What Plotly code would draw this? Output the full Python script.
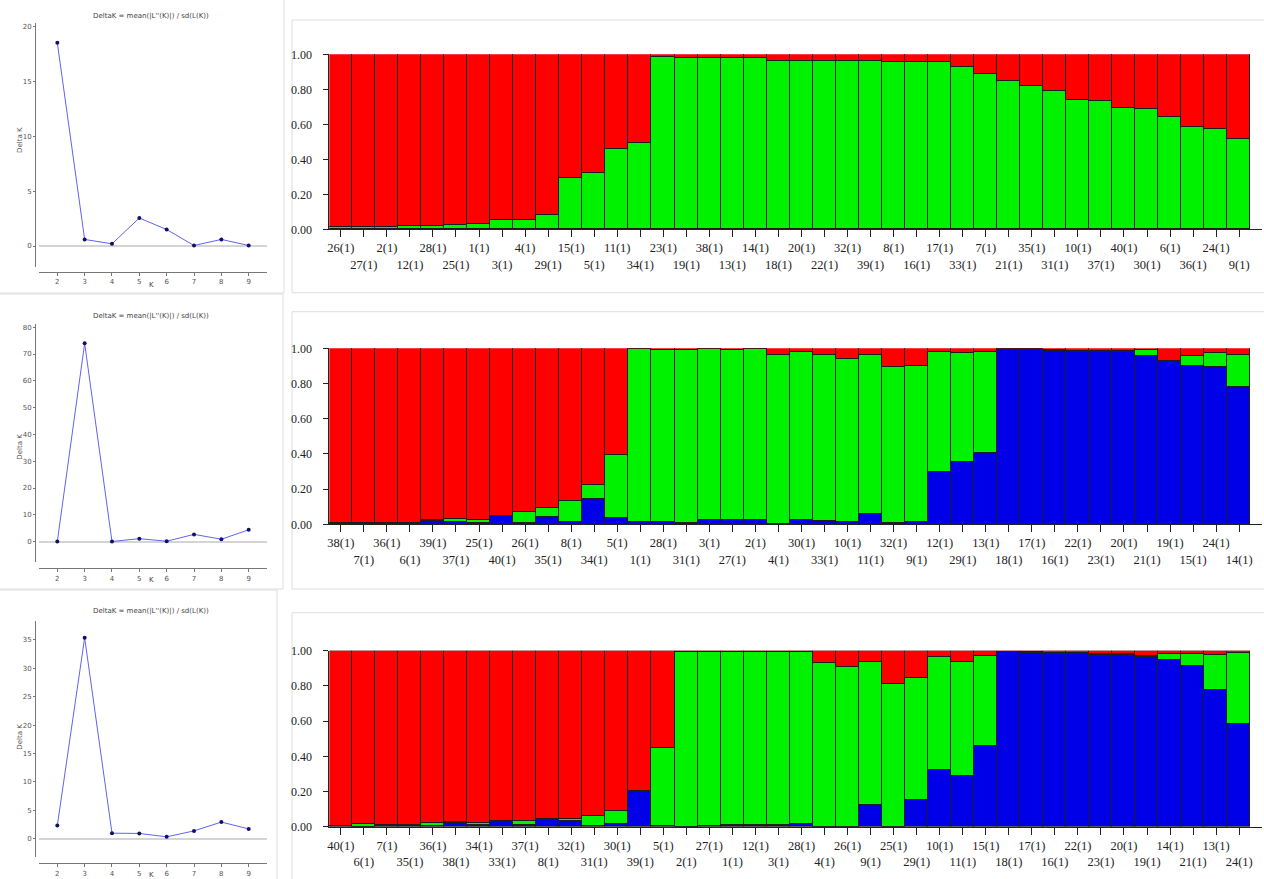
import plotly.graph_objects as go

W, H = 1264, 879


def px(x):
    return x / W


def py(y):
    return 1 - y / H


# ---------------- Delta K (Evanno) curves ----------------
K_VALUES = [2, 3, 4, 5, 6, 7, 8, 9]
DELTA_K_A = [18.5, 0.6, 0.2, 2.55, 1.5, 0.05, 0.6, 0.05]
DELTA_K_B = [0.05, 74.0, 0.05, 1.1, 0.15, 2.7, 0.9, 4.4]
DELTA_K_C = [2.3, 35.4, 0.95, 0.9, 0.3, 1.35, 2.9, 1.7]

# ---------------- Q-matrix, K = 2 ----------------
LABELS_K2 = ["26(1)", "27(1)", "2(1)", "12(1)", "28(1)", "25(1)", "1(1)", "3(1)", "4(1)", "29(1)",
             "15(1)", "5(1)", "11(1)", "34(1)", "23(1)", "19(1)", "38(1)", "13(1)", "14(1)", "18(1)",
             "20(1)", "22(1)", "32(1)", "39(1)", "8(1)", "16(1)", "17(1)", "33(1)", "7(1)", "21(1)",
             "35(1)", "31(1)", "10(1)", "37(1)", "40(1)", "30(1)", "6(1)", "36(1)", "24(1)", "9(1)"]
GREEN_K2 = [0.010, 0.010, 0.012, 0.019, 0.020, 0.025, 0.027, 0.049, 0.050, 0.082,
            0.291, 0.319, 0.456, 0.490, 0.985, 0.975, 0.975, 0.975, 0.975, 0.962,
            0.962, 0.962, 0.962, 0.962, 0.952, 0.952, 0.952, 0.924, 0.884, 0.848,
            0.817, 0.791, 0.738, 0.732, 0.694, 0.686, 0.639, 0.582, 0.574, 0.515]
RED_K2 = [0.990, 0.990, 0.988, 0.981, 0.980, 0.975, 0.973, 0.951, 0.950, 0.918,
          0.709, 0.681, 0.544, 0.510, 0.015, 0.025, 0.025, 0.025, 0.025, 0.038,
          0.038, 0.038, 0.038, 0.038, 0.048, 0.048, 0.048, 0.076, 0.116, 0.152,
          0.183, 0.209, 0.262, 0.268, 0.306, 0.314, 0.361, 0.418, 0.426, 0.485]

# ---------------- Q-matrix, K = 3 (run A) ----------------
LABELS_K3A = ["38(1)", "7(1)", "36(1)", "6(1)", "39(1)", "37(1)", "25(1)", "40(1)", "26(1)", "35(1)",
              "8(1)", "34(1)", "5(1)", "1(1)", "28(1)", "31(1)", "3(1)", "27(1)", "2(1)", "4(1)",
              "30(1)", "33(1)", "10(1)", "11(1)", "32(1)", "9(1)", "12(1)", "29(1)", "13(1)", "18(1)",
              "17(1)", "16(1)", "22(1)", "23(1)", "20(1)", "21(1)", "19(1)", "15(1)", "24(1)", "14(1)"]
BLUE_K3A = [0.003, 0.001, 0.005, 0.002, 0.018, 0.010, 0.005, 0.044, 0.005, 0.040,
            0.010, 0.144, 0.034, 0.010, 0.010, 0.005, 0.020, 0.020, 0.025, 0.000,
            0.025, 0.015, 0.010, 0.055, 0.005, 0.010, 0.295, 0.352, 0.401, 0.989,
            0.990, 0.985, 0.975, 0.975, 0.980, 0.954, 0.918, 0.895, 0.890, 0.776]
GREEN_K3A = [0.002, 0.005, 0.001, 0.006, 0.002, 0.020, 0.018, 0.002, 0.062, 0.051,
             0.119, 0.080, 0.356, 0.985, 0.980, 0.985, 0.975, 0.970, 0.970, 0.962,
             0.950, 0.947, 0.927, 0.905, 0.889, 0.887, 0.680, 0.619, 0.576, 0.004,
             0.003, 0.005, 0.010, 0.010, 0.002, 0.036, 0.006, 0.060, 0.080, 0.186]
RED_K3A = [0.995, 0.994, 0.994, 0.992, 0.980, 0.970, 0.977, 0.954, 0.933, 0.909,
           0.871, 0.776, 0.610, 0.005, 0.010, 0.010, 0.005, 0.010, 0.005, 0.038,
           0.025, 0.038, 0.063, 0.040, 0.106, 0.103, 0.025, 0.029, 0.023, 0.007,
           0.007, 0.010, 0.015, 0.015, 0.018, 0.010, 0.076, 0.045, 0.030, 0.038]

# ---------------- Q-matrix, K = 3 (run B) ----------------
LABELS_K3B = ["40(1)", "6(1)", "7(1)", "35(1)", "36(1)", "38(1)", "34(1)", "33(1)", "37(1)", "8(1)",
              "32(1)", "31(1)", "30(1)", "39(1)", "5(1)", "2(1)", "27(1)", "1(1)", "12(1)", "3(1)",
              "28(1)", "4(1)", "26(1)", "9(1)", "25(1)", "29(1)", "10(1)", "11(1)", "15(1)", "18(1)",
              "17(1)", "16(1)", "22(1)", "23(1)", "20(1)", "19(1)", "14(1)", "21(1)", "13(1)", "24(1)"]
BLUE_K3B = [0.005, 0.002, 0.005, 0.010, 0.005, 0.025, 0.010, 0.030, 0.010, 0.042,
            0.035, 0.005, 0.019, 0.199, 0.005, 0.002, 0.003, 0.010, 0.010, 0.010,
            0.015, 0.000, 0.000, 0.123, 0.000, 0.152, 0.322, 0.288, 0.458, 0.993,
            0.990, 0.985, 0.985, 0.980, 0.980, 0.966, 0.951, 0.915, 0.776, 0.583]
GREEN_K3B = [0.002, 0.013, 0.008, 0.002, 0.018, 0.002, 0.015, 0.005, 0.024, 0.002,
             0.010, 0.056, 0.070, 0.003, 0.444, 0.993, 0.992, 0.985, 0.985, 0.982,
             0.977, 0.934, 0.909, 0.815, 0.814, 0.695, 0.644, 0.650, 0.512, 0.002,
             0.003, 0.003, 0.003, 0.005, 0.005, 0.004, 0.034, 0.070, 0.199, 0.406]
RED_K3B = [0.993, 0.985, 0.987, 0.988, 0.977, 0.973, 0.975, 0.965, 0.966, 0.956,
           0.955, 0.939, 0.911, 0.798, 0.551, 0.005, 0.005, 0.005, 0.005, 0.008,
           0.008, 0.066, 0.091, 0.062, 0.186, 0.153, 0.034, 0.062, 0.030, 0.005,
           0.007, 0.012, 0.012, 0.015, 0.015, 0.030, 0.015, 0.015, 0.025, 0.011]

Y_TICKS = [0.0, 0.2, 0.4, 0.6, 0.8, 1.0]

RED, GREEN, BLUE = "#ff0000", "#00f200", "#0000e8"
EDGE = "#1e1e1e"
SERIF = "Liberation Serif, Times New Roman, serif"
SANS = "DejaVu Sans, Arial, sans-serif"

fig = go.Figure()

# ---------------- structure bar panels ----------------
bar_panels = [
    dict(n="", labels=LABELS_K2, stack=[(GREEN, GREEN_K2), (RED, RED_K2)], y0=229.3, y1=54.3),
    dict(n="2", labels=LABELS_K3A, stack=[(BLUE, BLUE_K3A), (GREEN, GREEN_K3A), (RED, RED_K3A)],
         y0=524.3, y1=348.3),
    dict(n="3", labels=LABELS_K3B, stack=[(BLUE, BLUE_K3B), (GREEN, GREEN_K3B), (RED, RED_K3B)],
         y0=826.7, y1=650.7),
]

X_LEFT, X_RIGHT = 329.3, 1262.2

for p in bar_panels:
    xa, ya = "x" + p["n"], "y" + p["n"]
    for color, vals in p["stack"]:
        fig.add_trace(go.Bar(
            x=p["labels"], y=vals, xaxis=xa, yaxis=ya,
            marker=dict(color=color, line=dict(color=EDGE, width=1)),
            showlegend=False, hoverinfo="skip",
        ))
    ticktext = [lab if i % 2 == 0 else "<br>" + lab for i, lab in enumerate(p["labels"])]
    fig.layout["xaxis" + p["n"]] = dict(
        domain=[px(X_LEFT), px(X_RIGHT)], anchor=ya, automargin=False,
        range=[-0.5, 40.0], type="category",
        tickmode="array", tickvals=p["labels"], ticktext=ticktext,
        ticks="outside", ticklen=7, tickcolor="#222", tickwidth=1,
        showline=True, linecolor="#222", linewidth=1,
        showgrid=False, zeroline=False, tickangle=0,
        tickfont=dict(family=SERIF, size=12.5, color="#222"),
        fixedrange=True,
    )
    fig.layout["yaxis" + p["n"]] = dict(
        domain=[py(p["y0"]), py(p["y1"])], anchor=xa, automargin=False,
        range=[0, 1.0], tickmode="array", tickvals=Y_TICKS,
        ticktext=[f"{v:.2f}" for v in Y_TICKS],
        ticks="outside", ticklen=5, tickcolor="#222", tickwidth=1,
        showline=True, linecolor="#222", linewidth=1,
        showgrid=False, zeroline=False,
        tickfont=dict(family=SERIF, size=12, color="#222"),
        ticklabelstandoff=9, fixedrange=True,
    )

# ---------------- Delta K panels ----------------
dk_panels = [
    dict(n="4", vals=DELTA_K_A, top=23, bottom=267, xline=271.7, rng=[-1.91, 20.3], dtick=5,
         title_y=16, k_y=285, lab_y=140),
    dict(n="5", vals=DELTA_K_B, top=324, bottom=562, xline=568.3, rng=[-7.6, 81.2], dtick=10,
         title_y=315.7, k_y=580, lab_y=446.7),
    dict(n="6", vals=DELTA_K_C, top=620.7, bottom=856.7, xline=863.3, rng=[-3.2, 38.4], dtick=5,
         title_y=610.7, k_y=875, lab_y=736.7),
]

DK_X0, DK_X1, DK_YAX = 39, 267, 35
for p in dk_panels:
    xa, ya = "x" + p["n"], "y" + p["n"]
    fig.add_trace(go.Scatter(
        x=K_VALUES, y=p["vals"], xaxis=xa, yaxis=ya, mode="lines+markers",
        line=dict(color="#6262ee", width=1),
        marker=dict(color="#10106a", size=4),
        showlegend=False, hoverinfo="skip",
    ))
    fig.layout["xaxis" + p["n"]] = dict(
        domain=[px(DK_X0), px(DK_X1)], anchor="free", position=py(p["xline"]),
        automargin=False,
        range=[1.33, 9.67], tickmode="array", tickvals=K_VALUES,
        ticks="outside", ticklen=3, tickcolor="#777",
        showline=True, linecolor="#777", linewidth=1,
        showgrid=False, zeroline=False,
        tickfont=dict(family=SANS, size=7, color="#555"), fixedrange=True,
    )
    fig.layout["yaxis" + p["n"]] = dict(
        domain=[py(p["bottom"]), py(p["top"])], anchor="free", position=px(DK_YAX),
        automargin=False,
        range=p["rng"], dtick=p["dtick"], tick0=0,
        ticks="outside", ticklen=2, tickcolor="#777",
        showline=True, linecolor="#777", linewidth=1,
        showgrid=False, zeroline=True, zerolinecolor="#d4d4d4", zerolinewidth=2,
        tickfont=dict(family=SANS, size=7, color="#555"), fixedrange=True,
    )
    cx = (DK_X0 + DK_X1) / 2 - 2
    fig.add_annotation(x=px(cx), y=py(p["title_y"]), xref="paper", yref="paper",
                       text="DeltaK = mean(|L''(K)|) / sd(L(K))", showarrow=False,
                       font=dict(family=SANS, size=7, color="#444"),
                       xanchor="center", yanchor="middle")
    fig.add_annotation(x=px(cx), y=py(p["k_y"]), xref="paper", yref="paper",
                       text="K", showarrow=False,
                       font=dict(family=SANS, size=7, color="#444"),
                       xanchor="center", yanchor="middle")
    fig.add_annotation(x=px(20), y=py(p["lab_y"]), xref="paper", yref="paper",
                       text="Delta K", showarrow=False, textangle=-90,
                       font=dict(family=SANS, size=7, color="#555"),
                       xanchor="center", yanchor="middle")

# ---------------- panel frames ----------------
frames = [
    (-2, -2, 284, 293), (-2, 294, 283, 589), (-2, 590, 277, 885),
    (292, 20, 1270, 292.7), (292, 311.7, 1270, 589), (292, 612.7, 1270, 885),
]
for x0, y0, x1, y1 in frames:
    fig.add_shape(type="rect", xref="paper", yref="paper",
                  x0=px(x0), x1=px(x1), y0=py(y1), y1=py(y0),
                  line=dict(color="#dedede", width=1), fillcolor="rgba(0,0,0,0)",
                  layer="below")

fig.update_layout(
    width=W, height=H, margin=dict(l=0, r=0, t=0, b=0, autoexpand=False),
    paper_bgcolor="white", plot_bgcolor="rgba(0,0,0,0)",
    barmode="stack", bargap=0, showlegend=False,
)

fig.write_html("out.html", config={"displayModeBar": False})
